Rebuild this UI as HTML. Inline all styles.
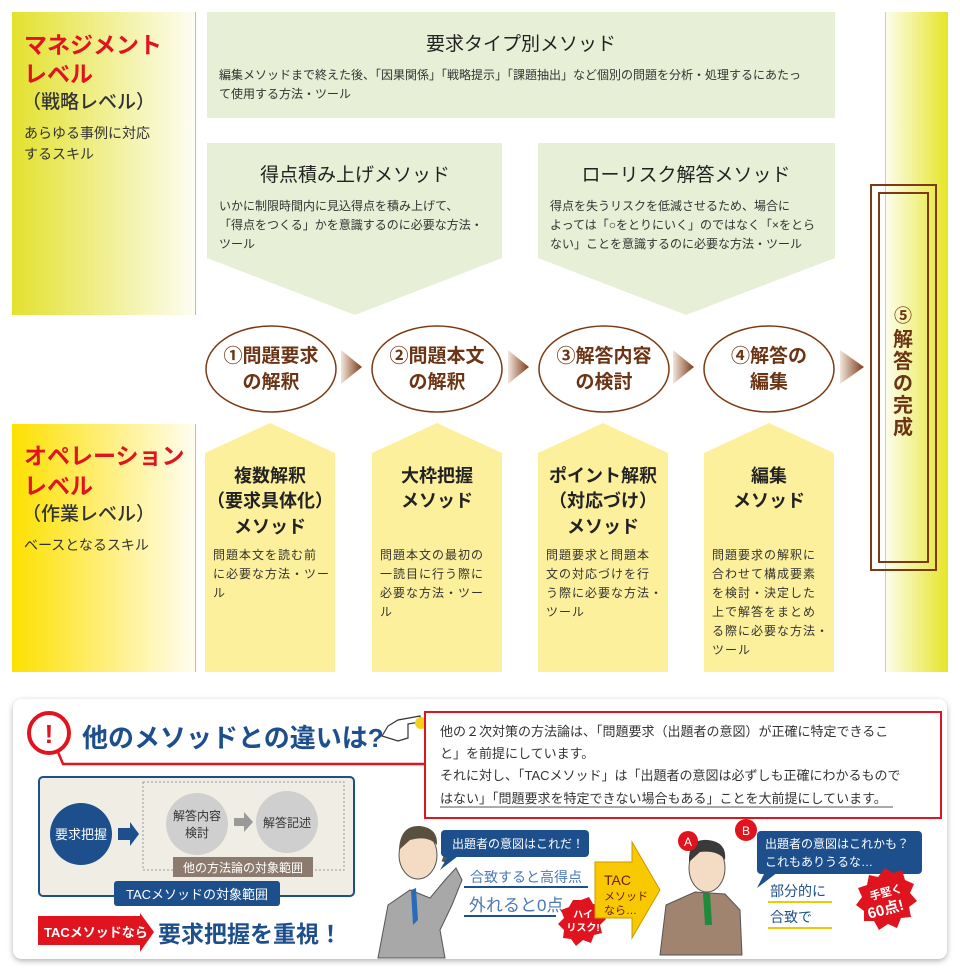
<!DOCTYPE html>
<html><head><meta charset="utf-8"><style>
html,body{margin:0;padding:0;background:#fff}
svg{display:block}
text{font-family:"Liberation Sans","Noto Sans CJK JP",sans-serif}
</style></head><body>
<svg width="960" height="971" viewBox="0 0 960 971" xmlns="http://www.w3.org/2000/svg">
<defs>
<linearGradient id="gl" x1="0" y1="0" x2="1" y2="0"><stop offset="0" stop-color="#e3e12e"/><stop offset="1" stop-color="#fdfdf3"/></linearGradient>
<linearGradient id="gl2" x1="0" y1="0" x2="1" y2="0"><stop offset="0" stop-color="#fde000"/><stop offset="1" stop-color="#fffdf0"/></linearGradient>
<linearGradient id="gr" x1="0" y1="0" x2="1" y2="0"><stop offset="0" stop-color="#fdfdf0"/><stop offset="1" stop-color="#e6e526"/></linearGradient>
<linearGradient id="ga" x1="0" y1="0" x2="1" y2="0"><stop offset="0" stop-color="#f3e6dc"/><stop offset="1" stop-color="#7b3a14"/></linearGradient>
<filter id="sh" x="-5%" y="-5%" width="110%" height="115%"><feDropShadow dx="0" dy="2" stdDeviation="3" flood-color="#000" flood-opacity="0.3"/></filter>
</defs>

<rect x="12" y="12" width="183" height="303" fill="url(#gl)"/>
<line x1="195.5" y1="12" x2="195.5" y2="315" stroke="#bbb"/>
<text x="24" y="53" font-size="23" font-weight="bold" fill="#e0141e">マネジメント</text>
<text x="24" y="82" font-size="23" font-weight="bold" fill="#e0141e">レベル</text>
<text x="22" y="108" font-size="19" font-weight="500" fill="#333">（戦略レベル）</text>
<text x="24" y="138" font-size="14" fill="#333">あらゆる事例に対応</text>
<text x="24" y="159" font-size="14" fill="#333">するスキル</text>

<rect x="12" y="424" width="183" height="248" fill="url(#gl2)"/>
<line x1="195.5" y1="424" x2="195.5" y2="672" stroke="#bbb"/>
<text x="24" y="464" font-size="23" font-weight="bold" fill="#e0141e">オペレーション</text>
<text x="24" y="494" font-size="23" font-weight="bold" fill="#e0141e">レベル</text>
<text x="22" y="520" font-size="19" font-weight="500" fill="#333">（作業レベル）</text>
<text x="24" y="550" font-size="14" fill="#333">ベースとなるスキル</text>

<rect x="885" y="12" width="63" height="660" fill="url(#gr)"/>
<line x1="885.5" y1="12" x2="885.5" y2="672" stroke="#ccc"/>
<rect x="871" y="185" width="65" height="385" fill="#fff" fill-opacity="0.01" stroke="#7b3a14" stroke-width="2"/>
<rect x="879" y="193" width="49" height="369" fill="none" stroke="#7b3a14" stroke-width="2"/>
<text x="903" y="322" font-size="18" font-weight="bold" fill="#6b3414" text-anchor="middle">⑤</text>
<text font-size="20" font-weight="bold" fill="#6b3414" text-anchor="middle">
<tspan x="903" y="346">解</tspan><tspan x="903" y="368">答</tspan><tspan x="903" y="390">の</tspan><tspan x="903" y="412">完</tspan><tspan x="903" y="434">成</tspan></text>

<rect x="207" y="12" width="628" height="106" fill="#e7efd6"/>
<text x="521" y="50" font-size="19" fill="#222" text-anchor="middle">要求タイプ別メソッド</text>
<text x="219" y="79" font-size="12" fill="#333">編集メソッドまで終えた後、「因果関係」「戦略提示」「課題抽出」など個別の問題を分析・処理するにあたっ</text>
<text x="219" y="98" font-size="12" fill="#333">て使用する方法・ツール</text>

<polygon points="207,143 502,143 502,258 355,315 207,258" fill="#e7efd6"/>
<text x="355" y="181" font-size="19" fill="#222" text-anchor="middle">得点積み上げメソッド</text>
<text font-size="12" fill="#333"><tspan x="219" y="210">いかに制限時間内に見込得点を積み上げて、</tspan><tspan x="219" y="229">「得点をつくる」かを意識するのに必要な方法・</tspan><tspan x="219" y="248">ツール</tspan></text>

<polygon points="538,143 835,143 835,258 686,315 538,258" fill="#e7efd6"/>
<text x="686" y="181" font-size="19" fill="#222" text-anchor="middle">ローリスク解答メソッド</text>
<text font-size="12" fill="#333"><tspan x="550" y="210">得点を失うリスクを低減させるため、場合に</tspan><tspan x="550" y="229">よっては「○をとりにいく」のではなく「×をとら</tspan><tspan x="550" y="248">ない」ことを意識するのに必要な方法・ツール</tspan></text>

<g fill="#fff" stroke="#7b3a14" stroke-width="1.5">
<ellipse cx="271" cy="369" rx="65" ry="43"/>
<ellipse cx="437" cy="369" rx="65" ry="43"/>
<ellipse cx="604" cy="369" rx="65" ry="43"/>
<ellipse cx="769" cy="369" rx="65" ry="43"/>
</g>
<g font-size="19" font-weight="bold" fill="#6b3414" text-anchor="middle">
<text x="271" y="362">①問題要求</text><text x="271" y="388">の解釈</text>
<text x="437" y="362">②問題本文</text><text x="437" y="388">の解釈</text>
<text x="604" y="362">③解答内容</text><text x="604" y="388">の検討</text>
<text x="769" y="362">④解答の</text><text x="769" y="388">編集</text>
</g>
<g fill="url(#ga)">
<polygon points="341,350 341,384 362,367"/>
<polygon points="508,350 508,384 529,367"/>
<polygon points="673,350 673,384 694,367"/>
<polygon points="840,350 840,384 864,367"/>
</g>

<g fill="#fdf09c">
<polygon points="205,453 270,423 335,453 335,672 205,672"/>
<polygon points="372,453 437,423 502,453 502,672 372,672"/>
<polygon points="538,453 603,423 668,453 668,672 538,672"/>
<polygon points="704,453 769,423 834,453 834,672 704,672"/>
</g>
<g font-size="18" font-weight="bold" fill="#222" text-anchor="middle">
<text x="270" y="482">複数解釈</text><text x="270" y="507">（要求具体化）</text><text x="270" y="533">メソッド</text>
<text x="437" y="482">大枠把握</text><text x="437" y="507">メソッド</text>
<text x="603" y="482">ポイント解釈</text><text x="603" y="507">（対応づけ）</text><text x="603" y="533">メソッド</text>
<text x="769" y="482">編集</text><text x="769" y="507">メソッド</text>
</g>
<g font-size="12" fill="#333" letter-spacing="1">
<text x="213" y="559">問題本文を読む前</text><text x="213" y="578">に必要な方法・ツー</text><text x="213" y="597">ル</text>
<text x="380" y="559">問題本文の最初の</text><text x="380" y="578">一読目に行う際に</text><text x="380" y="597">必要な方法・ツー</text><text x="380" y="616">ル</text>
<text x="546" y="559">問題要求と問題本</text><text x="546" y="578">文の対応づけを行</text><text x="546" y="597">う際に必要な方法・</text><text x="546" y="616">ツール</text>
<text x="712" y="559">問題要求の解釈に</text><text x="712" y="578">合わせて構成要素</text><text x="712" y="597">を検討・決定した</text><text x="712" y="616">上で解答をまとめ</text><text x="712" y="635">る際に必要な方法・</text><text x="712" y="654">ツール</text>
</g>

<rect x="13" y="699" width="934" height="260" rx="9" fill="#fff" filter="url(#sh)"/>
<circle cx="49" cy="733" r="20" fill="#fff" stroke="#e0141e" stroke-width="4"/>
<text x="49" y="743" font-size="26" font-weight="bold" fill="#e0141e" text-anchor="middle">!</text>
<polyline points="58,752 63,764 426,764" fill="none" stroke="#e0141e" stroke-width="2.5"/>
<text x="82" y="747" font-size="26" font-weight="bold" fill="#1d4f8c">他のメソッドとの違いは?</text>
<path d="M382 736 l6 -10 l10 -6 l22 -4 l0 6 l-12 2 l0 14 l-10 3 z" fill="#fff" stroke="#333" stroke-width="1.2"/>
<circle cx="421" cy="723" r="6" fill="#f4d21a"/>
<rect x="425" y="712" width="516" height="106" fill="#fff" stroke="#e0141e" stroke-width="2"/>
<g font-size="13" fill="#333">
<text x="440" y="736">他の２次対策の方法論は、「問題要求（出題者の意図）が正確に特定できるこ</text>
<text x="440" y="758">と」を前提にしています。</text>
<text x="440" y="780">それに対し、「TACメソッド」は「出題者の意図は必ずしも正確にわかるもので</text>
<text x="440" y="803">はない」「問題要求を特定できない場合もある」ことを大前提にしています。</text>
</g>
<line x1="440" y1="807" x2="893" y2="807" stroke="#555"/>

<rect x="39" y="777" width="315" height="119" rx="4" fill="#f0ede4" stroke="#1d4f8c" stroke-width="2"/>
<rect x="143" y="782" width="201" height="88" fill="none" stroke="#999" stroke-dasharray="2,2"/>
<circle cx="81" cy="834" r="31" fill="#1d4f8c"/>
<text x="81" y="839" font-size="13" fill="#fff" text-anchor="middle">要求把握</text>
<polygon points="118,828 130,828 130,822 139,834 130,846 130,840 118,840" fill="#1d4f8c"/>
<circle cx="197" cy="824" r="31" fill="#cfcfcf"/>
<text x="197" y="820" font-size="12" fill="#333" text-anchor="middle">解答内容</text>
<text x="197" y="837" font-size="12" fill="#333" text-anchor="middle">検討</text>
<polygon points="234,818 244,818 244,812 253,822 244,832 244,826 234,826" fill="#999"/>
<circle cx="287" cy="822" r="31" fill="#cfcfcf"/>
<text x="287" y="827" font-size="12" fill="#333" text-anchor="middle">解答記述</text>
<rect x="173" y="857" width="140" height="20" fill="#8c7a6e"/>
<text x="243" y="872" font-size="12" fill="#fff" text-anchor="middle">他の方法論の対象範囲</text>
<rect x="114" y="881" width="166" height="25" rx="3" fill="#1d4f8c"/>
<text x="197" y="899" font-size="13" fill="#fff" text-anchor="middle">TACメソッドの対象範囲</text>
<polygon points="38,916 140,916 140,913 154,932 140,952 140,945 38,945" fill="#e0141e"/>
<text x="44" y="937" font-size="13" font-weight="bold" fill="#fff">TACメソッドなら</text>
<text x="158" y="942" font-size="23" font-weight="bold" fill="#1d4f8c">要求把握を重視！</text>

<path d="M378 958 L388 905 L410 890 L430 898 L445 880 L456 868 L462 880 L452 905 L440 930 L445 958 Z" fill="#a8a8a8" stroke="#555"/>
<ellipse cx="418" cy="855" rx="19" ry="24" fill="#f4dcc4" stroke="#555"/>
<path d="M399 850 Q400 825 420 826 Q438 828 437 845 Q428 835 410 840 Z" fill="#5a5040"/>
<polygon points="411,890 416,888 418,920 413,925" fill="#2a6ab8"/>
<path d="M444 862 q4 -12 10 -20" stroke="#555" stroke-width="5" fill="none"/>
<rect x="441" y="830" width="148" height="27" rx="4" fill="#1d4f8c"/>
<polygon points="448,856 458,856 440,870" fill="#1d4f8c"/>
<text x="452" y="848" font-size="12" fill="#fff">出題者の意図はこれだ！</text>
<text x="470" y="882" font-size="14" fill="#4a78b8">合致すると高得点</text>
<line x1="464" y1="887" x2="588" y2="887" stroke="#1d4f8c" stroke-width="2"/>
<text x="469" y="911" font-size="17" fill="#4a78b8">外れると0点</text>
<line x1="464" y1="916" x2="556" y2="916" stroke="#1d4f8c" stroke-width="2"/>
<polygon points="581,900 589,897 593,904 601,905 600,913 606,919 600,925 602,933 594,935 591,943 583,940 576,946 571,939 563,938 564,930 558,924 564,918 561,910 569,907 573,900" fill="#e0141e"/>
<text x="583" y="918" font-size="10" font-weight="bold" fill="#fff" text-anchor="middle">ハイ</text>
<text x="583" y="931" font-size="10" font-weight="bold" fill="#fff" text-anchor="middle">リスク!</text>

<polygon points="595,862 632,862 632,842 660,890 632,938 632,918 595,918" fill="#f8c800" stroke="#c89a00"/>
<text x="604" y="885" font-size="14" fill="#6b1a1a">TAC</text>
<text x="604" y="900" font-size="11" fill="#6b1a1a">メソッド</text>
<text x="604" y="914" font-size="11" fill="#6b1a1a">なら…</text>

<path d="M660 955 L666 905 L695 892 L725 894 L740 910 L742 955 Z" fill="#a08470" stroke="#555"/>
<ellipse cx="707" cy="868" rx="18" ry="24" fill="#f4dcc4" stroke="#555"/>
<path d="M689 862 Q688 838 708 840 Q727 842 725 860 Q718 850 700 852 Z" fill="#3a3a3a"/>
<polygon points="703,893 710,893 712,925 705,925" fill="#1e8a3a"/>
<circle cx="688" cy="841" r="10" fill="#e0141e"/><text x="688" y="846" font-size="12" fill="#fff" text-anchor="middle">A</text>
<circle cx="746" cy="830" r="11" fill="#e0141e"/><text x="746" y="835" font-size="12" fill="#fff" text-anchor="middle">B</text>
<rect x="757" y="831" width="165" height="43" rx="4" fill="#1d4f8c"/>
<polygon points="765,872 778,872 757,888" fill="#1d4f8c"/>
<text x="765" y="848" font-size="12" fill="#fff">出題者の意図はこれかも？</text>
<text x="765" y="866" font-size="12" fill="#fff">これもありうるな…</text>
<text x="770" y="896" font-size="14" fill="#1d4f8c">部分的に</text>
<line x1="768" y1="902" x2="832" y2="902" stroke="#f2c800" stroke-width="2"/>
<text x="770" y="922" font-size="14" fill="#1d4f8c">合致で</text>
<line x1="768" y1="928" x2="832" y2="928" stroke="#f2c800" stroke-width="2"/>
<polygon points="885,868 893,873 902,870 905,880 914,884 910,893 917,901 909,907 911,917 901,918 897,928 888,924 879,930 874,921 864,921 864,911 856,905 862,897 858,888 867,885 869,875 878,877" fill="#e0141e"/>
<text x="887" y="896" font-size="11" font-weight="bold" fill="#fff" text-anchor="middle" transform="rotate(-15 887 896)">手堅く</text>
<text x="887" y="914" font-size="15" font-weight="bold" fill="#fff" text-anchor="middle" transform="rotate(-15 887 914)">60点!</text>
</svg>
</body></html>
